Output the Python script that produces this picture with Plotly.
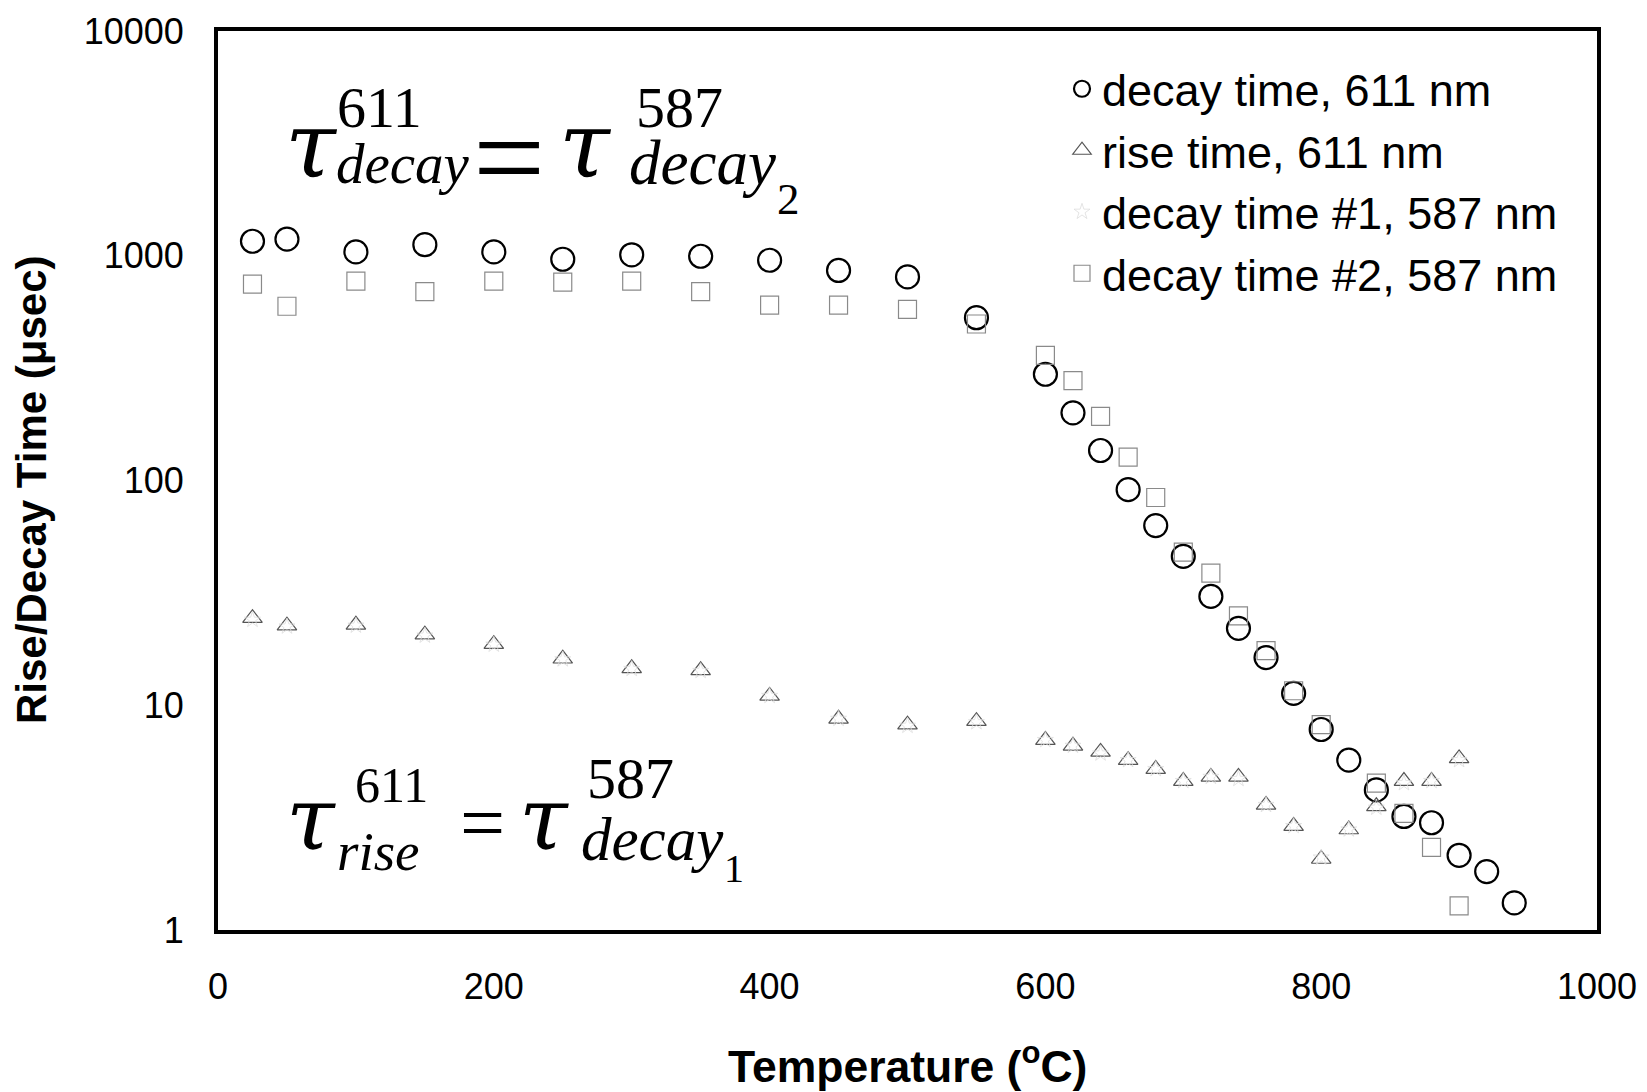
import plotly.graph_objects as go

# ---------------- data ----------------
temps_decay611 = [25, 50, 100, 150, 200, 250, 300, 350, 400, 450, 500, 550, 600, 620, 640,
                  660, 680, 700, 720, 740, 760, 780, 800, 820, 840, 860, 880, 900, 920, 940]
decay611 = [1160, 1185, 1040, 1120, 1040, 965, 1010, 995, 955, 860, 805, 530, 297, 200, 136,
            91, 63, 46, 30.5, 22, 16.3, 11.3, 7.8, 5.7, 4.2, 3.2, 3.0, 2.15, 1.82, 1.32]

temps_rise611 = [25, 50, 100, 150, 200, 250, 300, 350, 400, 450, 500, 550, 600, 620, 640,
                 660, 680, 700, 720, 740, 760, 780, 800, 820, 840, 860, 880, 900]
rise611 = [24.4, 22.6, 22.8, 20.6, 18.7, 16.1, 14.6, 14.3, 11.0, 8.7, 8.2, 8.5, 7.0, 6.6, 6.2,
           5.7, 5.2, 4.6, 4.8, 4.8, 3.6, 2.9, 2.07, 2.8, 3.55, 4.6, 4.6, 5.8]

temps_decay1_587 = [25, 50, 100, 150, 200, 250, 300, 350, 400, 450, 500, 550, 600, 620, 640,
                    660, 680, 700, 720, 740, 760, 780, 800, 820, 840, 860, 880, 900]
decay1_587 = [24.0, 22.4, 22.6, 20.4, 18.6, 16.0, 14.5, 14.2, 11.0, 8.7, 8.1, 8.4, 7.0, 6.6, 6.1,
              5.7, 5.2, 4.6, 4.8, 4.7, 3.6, 2.9, 2.1, 2.8, 3.5, 4.5, 4.6, 5.7]

temps_decay2_587 = [25, 50, 100, 150, 200, 250, 300, 350, 400, 450, 500, 550, 600, 620, 640,
                    660, 680, 700, 720, 740, 760, 780, 800, 840, 860, 880, 900]
decay2_587 = [747, 596, 771, 692, 771, 763, 771, 692, 603, 603, 577, 497, 360, 278, 193,
              127, 84, 48, 38.7, 25, 17.5, 11.6, 8.2, 4.5, 3.3, 2.33, 1.28]

names = ["decay time, 611 nm", "rise time, 611 nm", "decay time #1, 587 nm", "decay time #2, 587 nm"]

x_ticks = [0, 200, 400, 600, 800, 1000]
y_ticks = [1, 10, 100, 1000, 10000]
y_ticktext = ["1", "10", "100", "1000", "10000"]

# ---------------- figure ----------------
W, H = 1647, 1092
# plot frame in page pixels: x 218..1597, y 31..930
PL, PR, PT, PB = 218, 1597, 31, 930
L, T = PL, PT
R, B = W - PR, H - PB
PW, PH = PR - PL, PB - PT

fig = go.Figure()

fig.add_trace(go.Scatter(
    x=temps_decay611, y=decay611, mode="markers", name=names[0], legendgroup="a",
    marker=dict(symbol="circle-open", size=23, color="black", line=dict(width=2.2, color="black")),
))
fig.add_trace(go.Scatter(
    x=temps_rise611, y=rise611, mode="markers", name=names[1], legendgroup="b",
    marker=dict(symbol="triangle-up-open", size=17, color="#555555", line=dict(width=1.2, color="#555555")),
))
fig.add_trace(go.Scatter(
    x=temps_decay1_587, y=decay1_587, mode="markers", name=names[2], legendgroup="c",
    marker=dict(symbol="star-open", size=12, color="#dddddd", line=dict(width=0.8, color="#dddddd")),
))
fig.add_trace(go.Scatter(
    x=temps_decay2_587, y=decay2_587, mode="markers", name=names[3], legendgroup="d",
    marker=dict(symbol="square-open", size=18, color="#8a8a8a", line=dict(width=1.2, color="#8a8a8a")),
))


def px(xp):
    return (xp - PL) / PW


def py(yp):
    return (PB - yp) / PH


SERIF = "Liberation Serif, Times New Roman, serif"
TAUF = "DejaVu Serif, Liberation Serif, serif"
annotations = []


def txt(s, xl, yc, size, italic=True, family=SERIF):
    annotations.append(dict(
        text=("<i>%s</i>" % s) if italic else s,
        x=px(xl), y=py(yc), xref="paper", yref="paper",
        xanchor="left", yanchor="middle", showarrow=False,
        font=dict(family=family, size=size, color="black"),
    ))


# equation 1
txt("τ", 283, 146, 92, family=TAUF)
txt("611", 335, 108, 58, italic=False)
txt("decay", 334, 163, 57)
txt("=", 471, 157, 128, italic=False)
txt("τ", 557, 146, 92, family=TAUF)
txt("587", 634, 108, 58, italic=False)
txt("decay", 627, 163, 63)
txt("2", 775, 199, 45, italic=False)

# equation 2
txt("τ", 284, 818, 88, family=TAUF)
txt("611", 353, 785, 50, italic=False)
txt("rise", 335, 851, 55)
txt("=", 458, 823, 80, italic=False)
txt("τ", 517, 818, 88, family=TAUF)
txt("587", 585, 778, 58, italic=False)
txt("decay", 579, 839, 61)
txt("1", 722, 868, 40, italic=False)

SANS = "Liberation Sans, Arial, Helvetica, sans-serif"
# axis titles
annotations.append(dict(
    text="<b>Temperature (<sup>o</sup>C)</b>", x=0.5, y=py(1063), xref="paper", yref="paper",
    xanchor="center", yanchor="middle", showarrow=False,
    font=dict(family=SANS, size=44.5, color="black"),
))
annotations.append(dict(
    text="<b>Rise/Decay Time (μsec)</b>", x=px(31), y=py(490), xref="paper", yref="paper",
    xanchor="center", yanchor="middle", showarrow=False, textangle=-90,
    font=dict(family=SANS, size=42, color="black"),
))

fig.update_layout(
    width=W, height=H,
    margin=dict(l=L, r=R, t=T, b=B, autoexpand=False),
    paper_bgcolor="white", plot_bgcolor="white",
    showlegend=True,
    legend=dict(
        x=px(1062), y=py(53), xanchor="left", yanchor="top",
        font=dict(family=SANS, size=45, color="black"),
        bgcolor="rgba(0,0,0,0)", tracegroupgap=6, traceorder="normal",
    ),
    annotations=annotations,
    xaxis=dict(
        range=[0, 1000], tickvals=x_ticks, ticks="", showgrid=False, zeroline=False,
        showline=True, mirror=True, linecolor="black", linewidth=4, automargin=False,
        tickfont=dict(family=SANS, size=36, color="black"), ticklabelstandoff=22,
    ),
    yaxis=dict(
        type="log", range=[0, 4], tickvals=y_ticks, ticktext=y_ticktext, ticks="",
        showgrid=False, zeroline=False, automargin=False,
        showline=True, mirror=True, linecolor="black", linewidth=4,
        tickfont=dict(family=SANS, size=36, color="black"), ticklabelstandoff=23,
    ),
)

fig.write_html(
    "out.html",
    config={"displayModeBar": False},
    post_script="document.body.style.margin='0';document.body.style.overflow='hidden';",
)
